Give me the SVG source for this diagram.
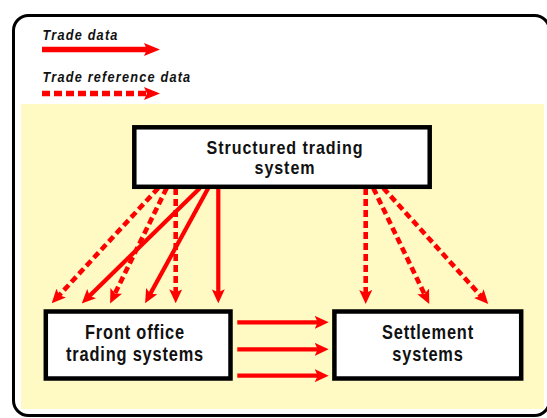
<svg xmlns="http://www.w3.org/2000/svg" width="547" height="418" viewBox="0 0 547 418">
<style>
.frame{fill:#ffffff;stroke:#000;stroke-width:3}
.panel{fill:#fff9c4;stroke:none}
.box{fill:#ffffff;stroke:#000;stroke-width:4.5}
.lbl{font-family:"Liberation Sans",Arial,sans-serif;font-weight:bold;font-size:20px;letter-spacing:1px;fill:#111;text-anchor:middle}
.lbs{font-family:"Liberation Sans",Arial,sans-serif;font-weight:bold;font-size:17.5px;letter-spacing:1px;fill:#111;text-anchor:middle}
.leg{font-family:"Liberation Sans",Arial,sans-serif;font-weight:bold;font-style:italic;font-size:15px;letter-spacing:1.4px;fill:#111}
.solid{stroke:#ff0000;stroke-width:4.2;fill:none;marker-end:url(#ah)}
.dash{stroke:#ff0000;stroke-width:4.6;fill:none;stroke-dasharray:7 4;marker-end:url(#ah)}
</style>
<defs>
<marker id="ah" viewBox="0 0 14 13" markerWidth="14" markerHeight="13" refX="4" refY="6.5" markerUnits="userSpaceOnUse" orient="auto">
<path d="M0,0 L14,6.5 L0,13 L3,6.5 Z" fill="#ff0000"/>
</marker>
<marker id="ahL" viewBox="0 0 16 13" markerWidth="16" markerHeight="13" refX="4" refY="6.5" markerUnits="userSpaceOnUse" orient="auto">
<path d="M0,0 L16,6.5 L0,13 L3,6.5 Z" fill="#ff0000"/>
</marker>
</defs>
<rect class="frame" x="13.5" y="15.5" width="536" height="400" rx="15" ry="15"/>
<rect class="panel" x="21" y="104" width="523" height="305"/>
<g id="legend">
<text class="leg" transform="translate(42.5,40) scale(0.85,1)">Trade data</text>
<line x1="42" y1="49.5" x2="148" y2="49.5" stroke="#ff0000" stroke-width="5.5" marker-end="url(#ahL)"/>
<text class="leg" transform="translate(42.5,81.5) scale(0.85,1)">Trade reference data</text>
<line x1="42" y1="93.5" x2="148" y2="93.5" stroke="#ff0000" stroke-width="5.5" stroke-dasharray="8 4" marker-end="url(#ahL)"/>
</g>
<g id="connectors">
<line class="dash" x1="158.3" y1="188" x2="58.5" y2="296"/>
<line class="dash" x1="166.7" y1="188" x2="114.5" y2="294.4"/>
<line class="dash" x1="175.7" y1="188" x2="175.7" y2="293.3"/>
<line class="solid" x1="200" y1="188" x2="88.9" y2="296.4"/>
<line class="solid" x1="208.3" y1="188" x2="149.9" y2="294.6"/>
<line class="solid" x1="218.3" y1="188" x2="218.3" y2="293.3"/>
<line class="dash" x1="365.7" y1="188" x2="365.7" y2="294"/>
<line class="dash" x1="373.3" y1="188" x2="424.9" y2="295"/>
<line class="dash" x1="383.3" y1="188" x2="481.5" y2="296.6"/>
<line class="solid" x1="237.3" y1="322.3" x2="318.7" y2="322.3"/>
<line class="solid" x1="237.3" y1="349.3" x2="318.7" y2="349.3"/>
<line class="solid" x1="237.3" y1="375.7" x2="318.7" y2="375.7"/>
</g>
<g id="structured">
<rect class="box" x="134.3" y="127.3" width="295.4" height="59.5"/>
<text class="lbs" transform="translate(285,153.5) scale(0.92,1)">Structured trading</text>
<text class="lbs" transform="translate(285,173.5) scale(0.92,1)">system</text>
</g>
<g id="front">
<rect class="box" x="45.8" y="311.5" width="184.7" height="67"/>
<text class="lbl" transform="translate(135,338.5) scale(0.82,1)">Front office</text>
<text class="lbl" transform="translate(135,361) scale(0.82,1)">trading systems</text>
</g>
<g id="settlement">
<rect class="box" x="334.4" y="311.5" width="186.8" height="67"/>
<text class="lbl" transform="translate(428,338.5) scale(0.82,1)">Settlement</text>
<text class="lbl" transform="translate(428,361) scale(0.82,1)">systems</text>
</g>
</svg>
